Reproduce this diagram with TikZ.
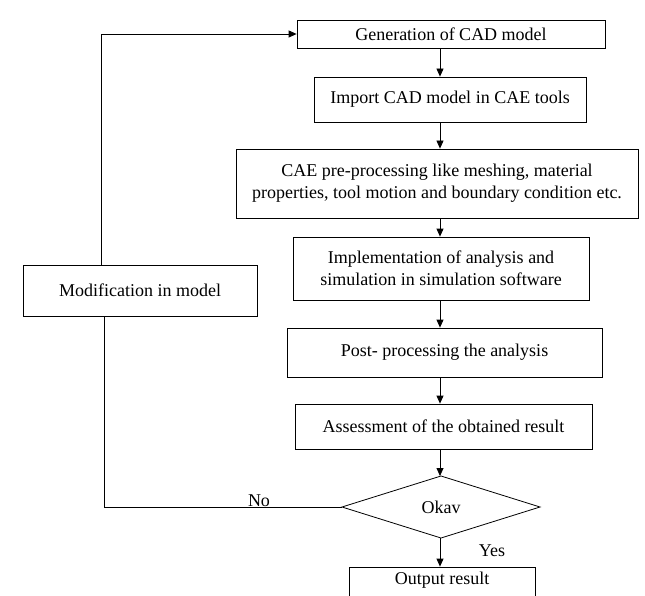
\documentclass[tikz,border=0pt]{standalone}
\usepackage{fontspec}
\setmainfont{Liberation Serif}
\usetikzlibrary{shapes.geometric,arrows.meta}
\begin{document}
\begin{tikzpicture}[x=1pt,y=-1pt,
  every node/.style={font=\fontsize{18}{22}\selectfont},
  stepbox/.style={draw=black,line width=0.8pt,rectangle,inner sep=0pt,align=center},
  conn/.style={draw=black,line width=0.8pt},
  arr/.style={conn,-{Triangle[length=8pt,width=7pt]}},
  lbl/.style={inner sep=0pt,anchor=base}]
\clip (0,0) rectangle (645,596);
\fill[white] (0,0) rectangle (645,596);
\node[stepbox,minimum width=308pt,minimum height=28pt] (b1) at (451,34) {Generation of CAD model};
\node[stepbox,minimum width=272pt,minimum height=45pt] (b2) at (450,99.5) {Import CAD model in CAE tools};
\node[stepbox,minimum width=402pt,minimum height=69pt] (b3) at (437,183.5) {CAE pre-processing like meshing, material\\properties, tool motion and boundary condition etc.};
\node[stepbox,minimum width=296pt,minimum height=63pt] (b4) at (441,268.5) {Implementation of analysis and\\simulation in simulation software};
\node[stepbox,minimum width=315pt,minimum height=49pt] (b5) at (444.5,352.5) {Post- processing the analysis};
\node[stepbox,minimum width=297pt,minimum height=45pt] (b6) at (443.5,426.5) {Assessment of the obtained result};
\node[inner sep=0pt] (dec) at (441,507) {Okav};
\node[stepbox,minimum width=186pt,minimum height=44pt] (out) at (442,589) {};
\node[inner sep=0pt,anchor=base] (outtext) at (442,584) {Output result};
\node[stepbox,minimum width=234pt,minimum height=51pt] (mod) at (140,290.5) {Modification in model};
\coordinate (dl) at (342,507);
\coordinate (dr) at (540,507);
\coordinate (dt) at (441,476);
\coordinate (db) at (441,538);
\draw[conn] (dl) -- (dt) -- (dr) -- (db) -- cycle;
\coordinate (ax) at (440,0);
\coordinate (cl) at (104,0);
\coordinate (ct) at (101,0);
\draw[arr] (b1.south -| ax) -- (b2.north -| ax);
\draw[arr] (b2.south -| ax) -- (b3.north -| ax);
\draw[arr] (b3.south -| ax) -- (b4.north -| ax);
\draw[arr] (b4.south -| ax) -- (b5.north -| ax);
\draw[arr] (b5.south -| ax) -- (b6.north -| ax);
\draw[arr] (b6.south -| ax) -- (dt -| ax);
\draw[arr] (db -| ax) -- (out.north -| ax);
\draw[conn] (dl) -- (dl -| cl) -- (mod.south -| cl);
\draw[arr] (mod.north -| ct) -- (b1.west -| ct) -- (b1.west);
\node[lbl] (no) at (259,506) {No};
\node[lbl] (yes) at (492,556) {Yes};
\end{tikzpicture}
\end{document}
